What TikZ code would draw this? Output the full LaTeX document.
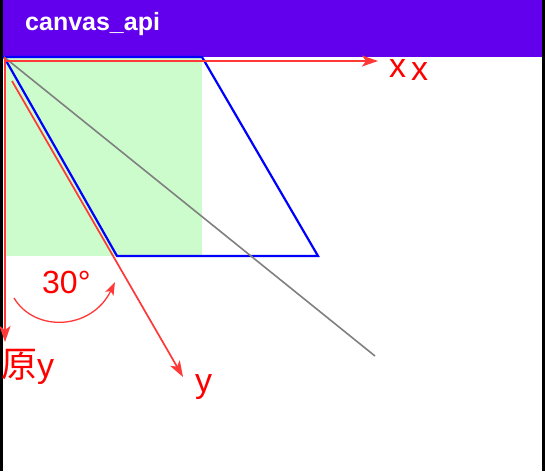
\documentclass[tikz,border=0pt]{standalone}
\usepackage{fontspec}
\setmainfont{Liberation Sans}
\newfontfamily\cjkfont{Noto Sans CJK SC}
\usetikzlibrary{arrows.meta,positioning,calc}
\definecolor{barpurple}{HTML}{6200EE}
\definecolor{softgreen}{HTML}{CCFCCC}
\definecolor{axisred}{HTML}{FF3838}

\begin{document}
\begin{tikzpicture}[x=1pt, y=-1pt,
  axis/.style={draw=axisred, line width=1.7pt, -{Stealth[length=16pt, width=11pt, inset=4pt]}},
  anglearc/.style={draw=axisred, line width=1.3pt, -{Stealth[length=13pt, width=9pt, inset=3pt]}},
  skewbox/.style={draw=blue, line width=2.2pt, line join=miter},
  diag/.style={draw=gray, line width=1.6pt},
  lbl/.style={text=red, inner sep=0pt, anchor=base west, font=\fontsize{34}{34}\selectfont},
  title/.style={text=white, inner sep=0pt, anchor=base west, font=\fontsize{25}{25}\selectfont\bfseries}
]
  \useasboundingbox (0,0) rectangle (545,471);

  % frame and app bar
  \fill[black] (0,0) rectangle (545,471);
  \fill[white] (3,0) rectangle (542,471);
  \fill[barpurple] (3,0) rectangle (542,57);
  \node[title] (bar) at (25,30) {canvas\_api};

  % canvas points
  \coordinate (O)  at (4,57);
  \coordinate (tr) at (202,57);
  \coordinate (br) at (318,256);
  \coordinate (bl) at (117,256);
  \coordinate (g)  at (202,256);
  \coordinate (d)  at (375,356);

  % original rect and skewed rect
  \fill[softgreen] (O) rectangle (g);
  \draw[skewbox] (O) -- (tr) -- (br) -- (bl) -- cycle;
  \draw[diag] (O) -- (d);

  % axes
  \coordinate (xs) at (4,61);
  \coordinate (xe) at (378,61);
  \coordinate (ys) at (5,57);
  \coordinate (ye) at (5,342);
  \coordinate (ks) at (12,81);
  \coordinate (ke) at (183,377);
  \draw[axis] (xs) -- (xe);
  \draw[axis] (ys) -- (ye);
  \draw[axis] (ks) -- (ke);

  \node[lbl] (x1) at (389,77) {x};
  \node[lbl] (x2) at (411,80) {x};
  \node[lbl] (yold) at (1,377) {{\cjkfont\fontsize{36}{36}\selectfont 原}y};
  \node[lbl] (ynew) at (195,392) {y};

  % angle mark
  \coordinate (as) at (14,298);
  \coordinate (ae) at (115,282);
  \draw[anglearc] (as) .. controls (35,333) and (92,330) .. (ae);
  \node[lbl, font=\fontsize{32}{32}\selectfont] (ang) at (42,293) {30°};

\end{tikzpicture}
\end{document}
